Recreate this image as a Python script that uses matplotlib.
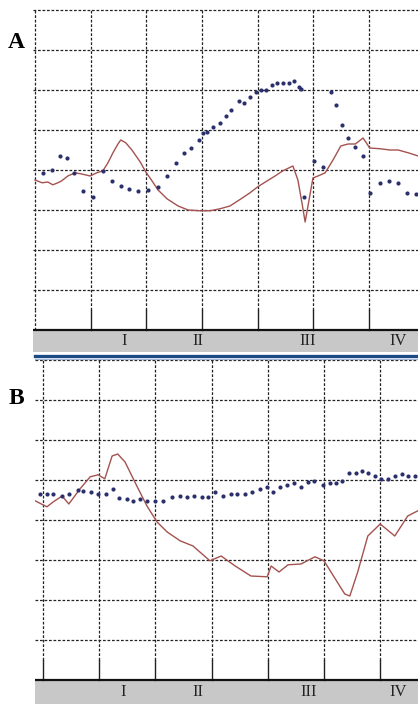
import numpy as np
import matplotlib.pyplot as plt
from matplotlib.lines import Line2D

# panel A (x in grid divisions, y in grid divisions above the baseline)
a_red_x = [0.00, 0.13, 0.23, 0.32, 0.41, 0.48, 0.59, 0.72, 0.84, 0.99, 1.11, 1.22, 1.31, 1.40,
           1.49, 1.54, 1.63, 1.74, 1.89, 1.99, 2.10, 2.21, 2.37, 2.57, 2.75, 2.96, 3.14, 3.32,
           3.50, 3.70, 3.86, 4.00, 4.17, 4.31, 4.45, 4.63, 4.72, 4.79, 4.85, 4.92, 4.99, 5.08,
           5.21, 5.35, 5.49, 5.62, 5.75, 5.89, 6.01, 6.21, 6.37, 6.52, 6.70, 6.88]
a_red_y = [3.75, 3.68, 3.70, 3.63, 3.68, 3.73, 3.85, 3.93, 3.90, 3.85, 3.93, 3.98, 4.18, 4.43,
           4.65, 4.75, 4.68, 4.50, 4.20, 3.95, 3.73, 3.50, 3.28, 3.10, 3.00, 2.98, 2.98, 3.03,
           3.10, 3.28, 3.43, 3.58, 3.73, 3.85, 3.98, 4.10, 3.75, 3.20, 2.70, 3.25, 3.80, 3.85,
           3.93, 4.25, 4.60, 4.65, 4.65, 4.80, 4.55, 4.53, 4.50, 4.50, 4.43, 4.35]
a_dot_x = [0.14, 0.31, 0.45, 0.57, 0.70, 0.86, 1.04, 1.22, 1.38, 1.54, 1.69, 1.85, 2.03, 2.21,
           2.37, 2.53, 2.68, 2.80, 2.94, 3.02, 3.09, 3.20, 3.32, 3.43, 3.52, 3.66, 3.75, 3.86,
           3.97, 4.06, 4.15, 4.25, 4.34, 4.45, 4.56, 4.65, 4.74, 4.78, 4.83, 5.01, 5.17, 5.31,
           5.40, 5.51, 5.62, 5.75, 5.89, 6.01, 6.19, 6.36, 6.52, 6.68, 6.84]
a_dot_y = [3.93, 4.00, 4.35, 4.30, 3.93, 3.48, 3.33, 3.98, 3.73, 3.60, 3.53, 3.48, 3.50, 3.58,
           3.85, 4.18, 4.43, 4.55, 4.75, 4.93, 4.95, 5.08, 5.18, 5.35, 5.50, 5.73, 5.68, 5.83,
           5.95, 6.00, 6.00, 6.13, 6.18, 6.18, 6.18, 6.23, 6.08, 6.03, 3.33, 4.23, 4.08, 5.95,
           5.63, 5.13, 4.80, 4.58, 4.35, 3.43, 3.68, 3.73, 3.68, 3.43, 3.40]

# panel B
b_red_x = [-0.14, 0.07, 0.18, 0.34, 0.46, 0.66, 0.84, 0.98, 1.10, 1.23, 1.33, 1.46, 1.67, 1.85,
           2.03, 2.21, 2.44, 2.67, 2.97, 3.17, 3.42, 3.70, 3.99, 4.06, 4.20, 4.36, 4.59, 4.84,
           5.00, 5.20, 5.37, 5.46, 5.60, 5.78, 6.00, 6.26, 6.49, 6.67]
b_red_y = [4.48, 4.33, 4.45, 4.60, 4.40, 4.78, 5.08, 5.13, 5.03, 5.60, 5.65, 5.45, 4.85, 4.35,
           3.95, 3.70, 3.48, 3.35, 2.98, 3.10, 2.85, 2.60, 2.58, 2.85, 2.70, 2.88, 2.90, 3.08,
           2.98, 2.53, 2.15, 2.10, 2.70, 3.60, 3.90, 3.60, 4.10, 4.23]
b_dot_x = [-0.05, 0.07, 0.18, 0.34, 0.46, 0.62, 0.71, 0.85, 0.98, 1.12, 1.25, 1.35, 1.49, 1.60,
           1.73, 1.85, 1.99, 2.14, 2.30, 2.44, 2.56, 2.69, 2.83, 2.94, 3.06, 3.20, 3.35, 3.45,
           3.59, 3.72, 3.86, 3.99, 4.09, 4.22, 4.34, 4.47, 4.59, 4.72, 4.82, 4.98, 5.11, 5.21,
           5.32, 5.44, 5.57, 5.68, 5.78, 5.91, 6.01, 6.14, 6.26, 6.39, 6.49, 6.62]
b_dot_y = [4.65, 4.65, 4.65, 4.60, 4.65, 4.75, 4.73, 4.70, 4.65, 4.65, 4.78, 4.55, 4.53, 4.48,
           4.53, 4.48, 4.48, 4.48, 4.58, 4.60, 4.58, 4.60, 4.58, 4.58, 4.70, 4.60, 4.65, 4.65,
           4.65, 4.70, 4.78, 4.83, 4.70, 4.83, 4.88, 4.93, 4.83, 4.95, 4.98, 4.88, 4.93, 4.93,
           4.98, 5.18, 5.18, 5.23, 5.18, 5.10, 5.03, 5.03, 5.10, 5.15, 5.10, 5.10]

phase_labels = ['I', 'II', 'III', 'IV']
a_phase_x = [1.60, 2.93, 4.90, 6.52]
b_phase_x = [1.42, 2.76, 4.72, 6.32]

red = '#a4524f'
navy = '#2b2f6b'
grid_kw = dict(color='#222222', lw=0.9, ls=(0, (2.2, 1.4)))
serif = 'Liberation Serif'

W, H = 418, 704
fig = plt.figure(figsize=(W / 100, H / 100), dpi=100)


def make_panel(rect, xlim, ylim, vgrid, ticks, red_x, red_y, dot_x, dot_y, phase_x):
    ax = fig.add_axes(rect)
    ax.set_xlim(*xlim)
    ax.set_ylim(*ylim)
    ax.axis('off')
    ax.axhspan(ylim[0], 0, color='#c8c8c8', zorder=0)
    for yy in range(1, 9):
        ax.plot(xlim, [yy, yy], **grid_kw, zorder=1)
    for xx in vgrid:
        ax.plot([xx, xx], [0.5, 8], **grid_kw, zorder=1)
        if xx in ticks:
            ax.plot([xx, xx], [0, 0.5], color='#222222', lw=1.0, zorder=1)
        else:
            ax.plot([xx, xx], [0, 0.5], **grid_kw, zorder=1)
    ax.plot(xlim, [0, 0], color='#111111', lw=1.6, zorder=3)
    ax.plot(red_x, red_y, color=red, lw=1.0, zorder=2)
    ax.plot(dot_x, dot_y, 'o', color=navy, ms=3.0, mew=0, zorder=2)
    for lab, px in zip(phase_labels, phase_x):
        ax.text(px, ylim[0] / 2, lab, ha='center', va='center', family=serif,
                fontsize=12, color='#222222', zorder=4)
    return ax


# panel A: 40 px per division, grid x step 55.7 px, left border at 35 px
ax_a = make_panel([33.3 / W, (H - 352) / H, (W - 33.3) / W, 344 / H],
                  (-0.03, 6.876), (-0.55, 8.05), range(0, 7), range(1, 7),
                  a_red_x, a_red_y, a_dot_x, a_dot_y, a_phase_x)

# panel B: grid x step 56.2 px, first line at 43 px
ax_b = make_panel([35 / W, 0, (W - 35) / W, 346 / H],
                  (-0.142, 6.673), (-0.6, 8.05), range(0, 7), range(0, 7),
                  b_red_x, b_red_y, b_dot_x, b_dot_y, b_phase_x)

# divider between panels
fig.add_artist(Line2D([35 / W, 1], [1 - 356 / H] * 2, color='#1c4a86', lw=2.4))
fig.add_artist(Line2D([35 / W, 1], [1 - 358.5 / H] * 2, color='#9fb8d8', lw=0.8))

fig.text(16 / W, 1 - 42 / H, 'A', family=serif, fontweight='bold', fontsize=17,
         ha='center', va='center')
fig.text(16 / W, 1 - 399 / H, 'B', family=serif, fontweight='bold', fontsize=17,
         ha='center', va='center')

fig.savefig('out.png', dpi=100, facecolor='white')
